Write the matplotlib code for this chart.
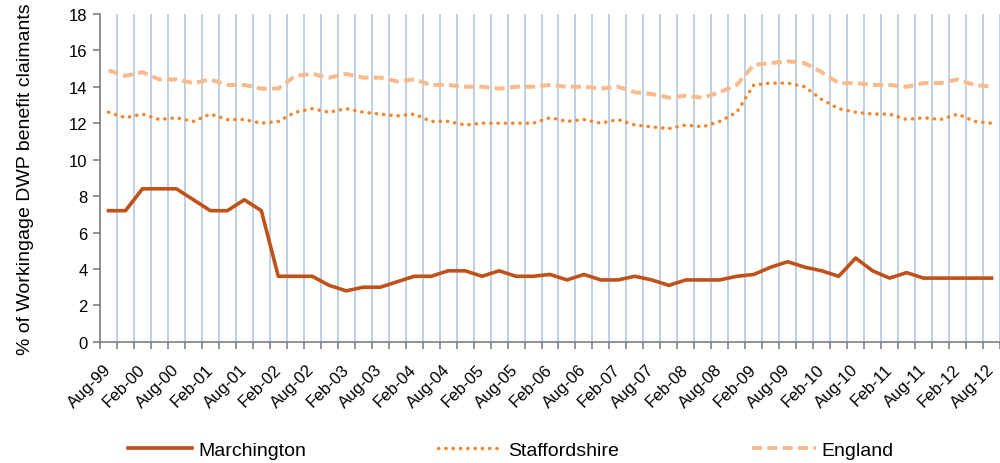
import numpy as np
import matplotlib.pyplot as plt

plt.rcParams['font.family'] = ['Liberation Sans', 'DejaVu Sans']

# quarterly series Aug-99 .. Aug-12 (53 points)
marchington = [7.2, 7.2, 8.4, 8.4, 8.4, 7.8, 7.2, 7.2, 7.8, 7.2,
               3.6, 3.6, 3.6, 3.1, 2.8, 3.0, 3.0, 3.3, 3.6, 3.6,
               3.9, 3.9, 3.6, 3.9, 3.6, 3.6, 3.7, 3.4, 3.7, 3.4,
               3.4, 3.6, 3.4, 3.1, 3.4, 3.4, 3.4, 3.6, 3.7, 4.1,
               4.4, 4.1, 3.9, 3.6, 4.6, 3.9, 3.5, 3.8, 3.5, 3.5,
               3.5, 3.5, 3.5]
staffordshire = [12.6, 12.3, 12.5, 12.2, 12.3, 12.1, 12.5, 12.2, 12.2, 12.0,
                 12.1, 12.6, 12.8, 12.6, 12.8, 12.6, 12.5, 12.4, 12.5, 12.1,
                 12.1, 11.9, 12.0, 12.0, 12.0, 12.0, 12.3, 12.1, 12.2, 12.0,
                 12.2, 11.9, 11.8, 11.7, 11.9, 11.8, 12.1, 12.6, 14.1, 14.2,
                 14.2, 14.0, 13.3, 12.8, 12.6, 12.5, 12.5, 12.2, 12.3, 12.2,
                 12.5, 12.1, 12.0]
england = [14.9, 14.6, 14.8, 14.4, 14.4, 14.2, 14.4, 14.1, 14.1, 13.9,
           13.9, 14.6, 14.7, 14.5, 14.7, 14.5, 14.5, 14.3, 14.4, 14.1,
           14.1, 14.0, 14.0, 13.9, 14.0, 14.0, 14.1, 14.0, 14.0, 13.9,
           14.0, 13.7, 13.6, 13.4, 13.5, 13.4, 13.7, 14.1, 15.2, 15.3,
           15.4, 15.3, 14.8, 14.2, 14.2, 14.1, 14.1, 14.0, 14.2, 14.2,
           14.4, 14.1, 14.0]
tick_labels = ['Aug-99', 'Feb-00', 'Aug-00', 'Feb-01', 'Aug-01', 'Feb-02',
               'Aug-02', 'Feb-03', 'Aug-03', 'Feb-04', 'Aug-04', 'Feb-05',
               'Aug-05', 'Feb-06', 'Aug-06', 'Feb-07', 'Aug-07', 'Feb-08',
               'Aug-08', 'Feb-09', 'Aug-09', 'Feb-10', 'Aug-10', 'Feb-11',
               'Aug-11', 'Feb-12', 'Aug-12']

x = np.arange(len(marchington))

fig = plt.figure(figsize=(10, 4.64), dpi=100)
ax = fig.add_axes([0.1, 0.261, 0.9, 0.707])

ax.plot(x, marchington, color='#BF5119', lw=2.6, label='Marchington', zorder=3)
ax.plot(x, staffordshire, color='#F7862E', lw=2.5, ls=(0, (0.1, 2.0)),
        dash_capstyle='round', label='Staffordshire', zorder=3)
ax.plot(x, england, color='#F9BA8C', lw=2.9, ls=(0, (2.5, 1.3)),
        label='England', zorder=3)

ax.set_xlim(-0.5, len(x) - 0.5)
ax.set_ylim(0, 18)
ax.set_yticks(np.arange(0, 19, 2))

ax.set_xticks(x[::2])
ax.set_xticklabels(tick_labels, rotation=45, ha='right', va='center',
                   rotation_mode='anchor', fontsize=12)
ax.set_xticks(np.arange(-0.5, len(x), 1), minor=True)
ax.tick_params(axis='x', which='major', length=0, pad=18)
ax.tick_params(axis='x', which='minor', length=5, color='#808080', width=1.2)
ax.tick_params(axis='y', length=5, color='#808080', width=1.2, labelsize=12, pad=4)
ax.grid(axis='x', which='minor', color='#B9CDE5', lw=1.3)

for s in ['top', 'right']:
    ax.spines[s].set_visible(False)
for s in ['left', 'bottom']:
    ax.spines[s].set_color('#808080')
    ax.spines[s].set_linewidth(1.2)
    ax.spines[s].set_zorder(4)

ax.set_ylabel('% of Workingage DWP benefit claimants', fontsize=14, labelpad=25)

fig.legend(loc='center', bbox_to_anchor=(0.511, 0.028), ncol=3, frameon=False,
           fontsize=14, handlelength=3.3, handletextpad=0.31, columnspacing=6.8)

plt.savefig('out.png', dpi=100)
